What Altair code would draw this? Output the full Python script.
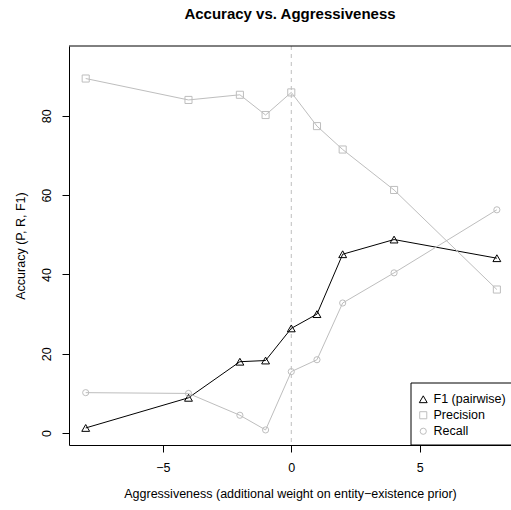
import altair as alt
import pandas as pd

# Aggressiveness settings (additional weight on the entity-existence prior)
weights = [-8, -4, -2, -1, 0, 1, 2, 4, 8]

# Accuracy measures at each setting
f1_pairwise = [1.3, 8.9, 18.0, 18.3, 26.4, 30.0, 45.1, 48.8, 44.1]
precision = [89.4, 84.0, 85.3, 80.2, 85.9, 77.4, 71.5, 61.3, 36.2]
recall = [10.2, 10.0, 4.5, 0.8, 15.5, 18.5, 32.8, 40.4, 56.3]

series_names = ["F1 (pairwise)", "Precision", "Recall"]
series_colors = ["#000000", "#bebebe", "#bebebe"]
series_shapes = ["triangle-up", "square", "circle"]
series_sizes = [62, 38, 40]

x_ticks = [-5, 0, 5]
y_ticks = [0, 20, 40, 60, 80]

rows = []
for name, color, values in zip(series_names, series_colors, [f1_pairwise, precision, recall]):
    for w, v in zip(weights, values):
        rows.append({"weight": w, "accuracy": v, "series": name, "col": color})
df = pd.DataFrame(rows)

FONT = "Liberation Sans"

x_scale = alt.Scale(domain=[-8.65, 8.55], nice=False, zero=False)
y_scale = alt.Scale(domain=[-3.0, 97.6], nice=False, zero=False)

x_enc = alt.X(
    "weight:Q",
    scale=x_scale,
    axis=alt.Axis(
        values=x_ticks,
        title="Aggressiveness (additional weight on entity\u2212existence prior)",
        labelExpr="replace(datum.label, '-', '\u2212')",
        grid=False,
        tickSize=7,
        labelPadding=9,
        titleY=52,
        titleBaseline="alphabetic",
    ),
)
y_enc = alt.Y(
    "accuracy:Q",
    scale=y_scale,
    axis=alt.Axis(
        values=y_ticks,
        title="Accuracy (P, R, F1)",
        grid=False,
        tickSize=7,
        labelAngle=270,
        labelAlign="center",
        labelBaseline="bottom",
        labelPadding=9,
        titleX=-45,
        titleBaseline="alphabetic",
    ),
)

base = alt.Chart(df)

# top border of the plot box
top_rule = alt.Chart(pd.DataFrame({"v": [97.6]})).mark_rule(color="black", strokeWidth=1).encode(
    y=alt.Y("v:Q", scale=y_scale), x=alt.value(0), x2=alt.value(442)
)

# reference line at zero extra weight
zero_line = alt.Chart(pd.DataFrame({"w": [0]})).mark_rule(
    color="#bebebe", strokeDash=[4, 4], strokeWidth=1
).encode(x=alt.X("w:Q", scale=x_scale))

lines = base.mark_line(strokeWidth=1).encode(
    x=x_enc,
    y=y_enc,
    color=alt.Color("col:N", scale=None),
    detail="series:N",
    order="weight:Q",
)

points = base.mark_point(filled=False, strokeWidth=1, opacity=1).encode(
    x=alt.X("weight:Q", scale=x_scale),
    y=alt.Y("accuracy:Q", scale=y_scale),
    color=alt.Color(
        "series:N",
        scale=alt.Scale(domain=series_names, range=series_colors),
        legend=alt.Legend(
            title=None,
            orient="none",
            legendX=339,
            legendY=338,
            padding=9,
            labelFont=FONT,
            labelFontSize=12.5,
            labelColor="black",
            labelOffset=4,
            rowPadding=3,
            symbolStrokeWidth=1,
        ),
    ),
    shape=alt.Shape("series:N", scale=alt.Scale(domain=series_names, range=series_shapes)),
    size=alt.Size("series:N", scale=alt.Scale(domain=series_names, range=series_sizes)),
)

# white legend frame, open past the right edge of the plot
legend_frame = alt.Chart(pd.DataFrame({"k": [0]})).mark_rect(
    fill="white", stroke="black", strokeWidth=1
).encode(x=alt.value(342), x2=alt.value(470), y=alt.value(337), y2=alt.value(399))

chart = (
    alt.layer(zero_line, top_rule, lines, points, legend_frame)
    .properties(
        width=442,
        height=399,
        padding={"left": 69, "top": 46, "right": 0, "bottom": 65},
        autosize=alt.AutoSizeParams(type="none"),
        title=alt.TitleParams(
            "Accuracy vs. Aggressiveness",
            font=FONT,
            fontSize=15,
            fontWeight="bold",
            anchor="middle",
            offset=24,
            color="black",
        ),
        background="white",
    )
    .configure_view(stroke=None)
    .configure_axis(
        domainColor="black",
        tickColor="black",
        labelColor="black",
        titleColor="black",
        labelFont=FONT,
        titleFont=FONT,
        labelFontSize=12.5,
        titleFontSize=12.5,
        titleFontWeight="normal",
        domainWidth=1,
        tickWidth=1,
    )
)

chart.save("out.html", embed_options={"renderer": "svg", "actions": False})
